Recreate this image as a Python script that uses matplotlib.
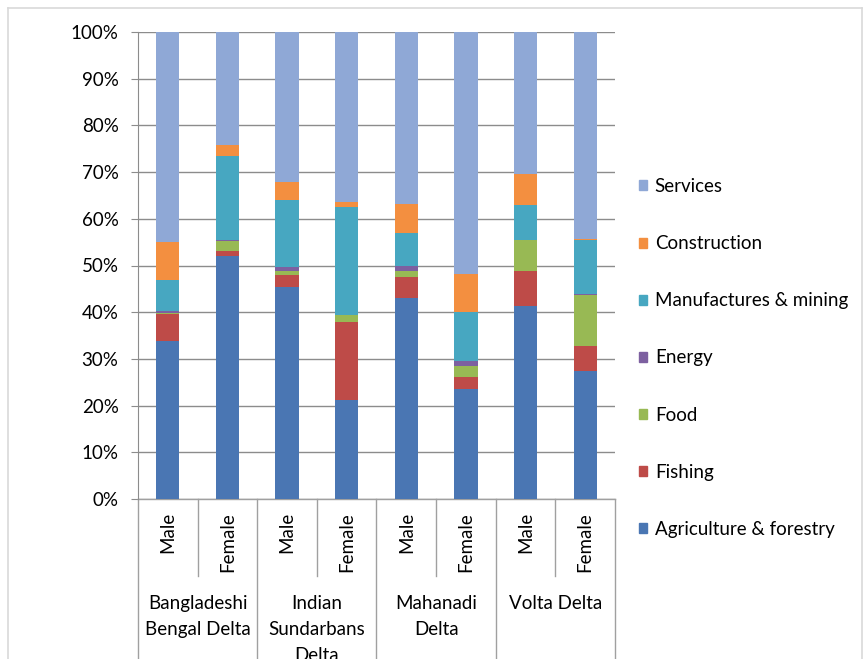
import numpy as np
import matplotlib
matplotlib.use('Agg')
import matplotlib.pyplot as plt
from matplotlib.patches import Patch
from matplotlib.lines import Line2D

plt.rcParams['font.family'] = ['Lato', 'DejaVu Sans']

sexes = ['Male', 'Female'] * 4
deltas = ['Bangladeshi\nBengal Delta', 'Indian\nSundarbans\nDelta', 'Mahanadi\nDelta', 'Volta Delta']

# shares in % (bottom to top)
agri = [33.9, 52.0, 45.3, 21.2, 43.0, 23.5, 41.3, 27.5]
fishing = [5.7, 1.2, 2.7, 16.8, 4.5, 2.7, 7.5, 5.3]
food = [0.3, 2.0, 0.9, 1.3, 1.4, 2.3, 6.6, 10.9]
energy = [0.3, 0.3, 0.7, 0.2, 0.9, 1.0, 0.1, 0.1]
manu = [6.7, 18.0, 14.4, 23.0, 7.2, 10.6, 7.4, 11.6]
construction = [8.1, 2.3, 3.8, 1.0, 6.1, 8.1, 6.6, 0.2]
services = [45.0, 24.2, 32.2, 36.5, 36.9, 51.8, 30.5, 44.4]

series = [agri, fishing, food, energy, manu, construction, services]
names = ['Agriculture & forestry', 'Fishing', 'Food', 'Energy',
         'Manufactures & mining', 'Construction', 'Services']
colors = ['#4a76b3', '#be4b48', '#98b954', '#7d60a0', '#47a7c1', '#f38f40', '#8fa8d6']

FS = 13.5
W, H = 866, 659
fig = plt.figure(figsize=(W / 100, H / 100), dpi=100)

# faint outer chart border
for xs, ys in [([8, 862], [651, 651]), ([8, 8], [0, 651]), ([862, 862], [0, 651])]:
    fig.add_artist(Line2D([v / W for v in xs], [v / H for v in ys], color='#d9d9d9', lw=1.2))

ax = fig.add_axes([138 / W, (H - 499) / H, 477 / W, 467 / H])

x = np.arange(len(sexes))
bottom = np.zeros(len(sexes))
for vals, c in zip(series, colors):
    ax.bar(x, vals, 0.39, bottom=bottom, color=c, zorder=3)
    bottom += np.array(vals)

ax.set_xlim(-0.5, 7.5)
ax.set_ylim(0, 100)
ax.set_yticks(np.arange(0, 101, 10))
ax.set_yticklabels([f'{v}%' for v in range(0, 101, 10)], fontsize=FS)
ax.yaxis.grid(True, color='#8c8c8c', lw=1, zorder=0)
ax.tick_params(axis='y', length=5, color='#8c8c8c', pad=9)
ax.set_xticks([])
for s in ['top', 'right', 'bottom']:
    ax.spines[s].set_visible(False)
ax.spines['left'].set_color('#8c8c8c')

# category axis (two levels)
tr = ax.get_xaxis_transform()
ah = 467.0
for i in range(9):
    xp = i - 0.5
    depth = 165 if i % 2 == 0 else 77
    ax.plot([xp, xp], [0, -depth / ah], transform=tr, color='#a0a0a0', lw=1, clip_on=False)
ax.plot([-0.5, 7.5], [0, 0], transform=tr, color='#a0a0a0', lw=1, clip_on=False)
for i, s in enumerate(sexes):
    ax.text(i, -13 / ah, s, transform=tr, rotation=90, ha='center', va='top', fontsize=FS)
for g, d in enumerate(deltas):
    ax.text(2 * g + 0.5, -96 / ah, d, transform=tr, ha='center', va='top', fontsize=FS,
            linespacing=1.65)

handles = [Patch(color=c, label=n) for c, n in zip(colors, names)][::-1]
fig.legend(handles=handles, loc='center left', bbox_to_anchor=(622 / W, 1 - 358 / H),
           frameon=False, fontsize=FS, handlelength=0.45, handleheight=0.45,
           handletextpad=0.4, labelspacing=2.14)

fig.savefig('out.png', dpi=100)
